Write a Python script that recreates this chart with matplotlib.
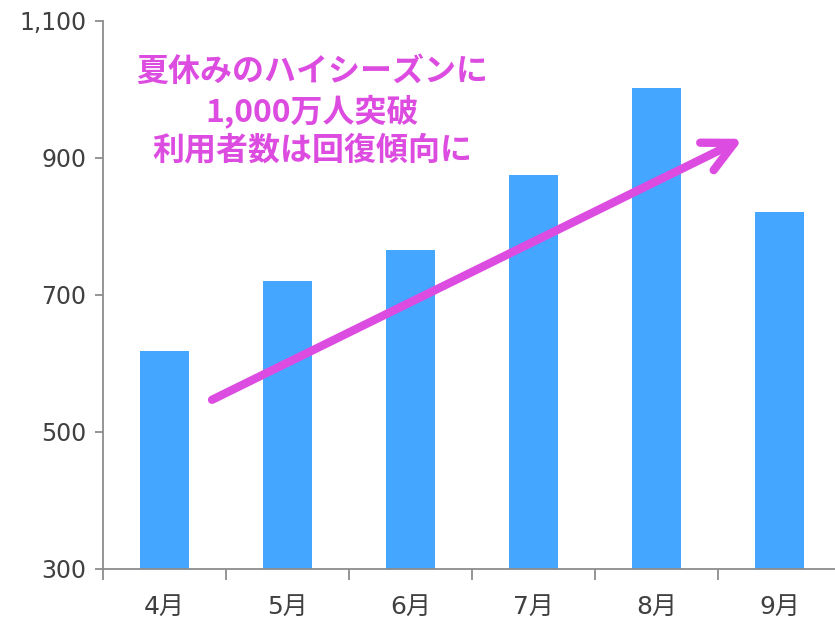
import numpy as np
import matplotlib.pyplot as plt
from matplotlib.ticker import FixedLocator

plt.rcParams['font.family'] = ['DejaVu Sans', 'Noto Sans CJK JP']

months = ['4月', '5月', '6月', '7月', '8月', '9月']
users = [618, 720, 766, 875, 1002, 821]
y_ticks = [300, 500, 700, 900, 1100]
y_labels = ['300', '500', '700', '900', '1,100']
note = '夏休みのハイシーズンに\n1,000万人突破\n利用者数は回復傾向に'

fig = plt.figure(figsize=(8.35, 6.23), dpi=100)
ax = fig.add_axes([0.1234, 0.0867, 0.8766, 0.8796])

x = np.arange(len(months))
ax.bar(x, users, width=0.4, color='#44A6FF')

ax.set_ylim(300, 1100)
ax.set_xlim(-0.5, 5.45)
ax.set_yticks(y_ticks)
ax.set_yticklabels(y_labels)
ax.set_xticks(x)
ax.set_xticklabels(months, family=['DejaVu Sans', 'Noto Sans CJK JP'])
ax.xaxis.set_minor_locator(FixedLocator(np.arange(len(months) + 1) - 0.5))

for s in ['top', 'right']:
    ax.spines[s].set_visible(False)
for s in ['left', 'bottom']:
    ax.spines[s].set_color('#8c8c8c')
    ax.spines[s].set_linewidth(1.3)

ax.tick_params(axis='y', length=6, width=1.3, color='#8c8c8c', labelsize=17,
               labelcolor='#404040', pad=6)
ax.tick_params(axis='x', which='major', length=0, labelsize=18,
               labelcolor='#404040', pad=19)
ax.tick_params(axis='x', which='minor', length=8, width=1.3, color='#8c8c8c')

# trend arrow
ax.annotate('', xy=(4.7, 928), xytext=(0.386, 547),
            arrowprops=dict(arrowstyle='->,head_length=2.2,head_width=1.1',
                            color='#DD4CE0', lw=6, capstyle='round',
                            joinstyle='round', shrinkA=0, shrinkB=0))

fig.text(0.374, 0.822, note, ha='center', va='center', fontsize=23,
         fontweight='bold', color='#DD4CE0', linespacing=1.25,
         family=['Noto Sans CJK JP', 'DejaVu Sans'])

fig.savefig('out.png', dpi=100)
